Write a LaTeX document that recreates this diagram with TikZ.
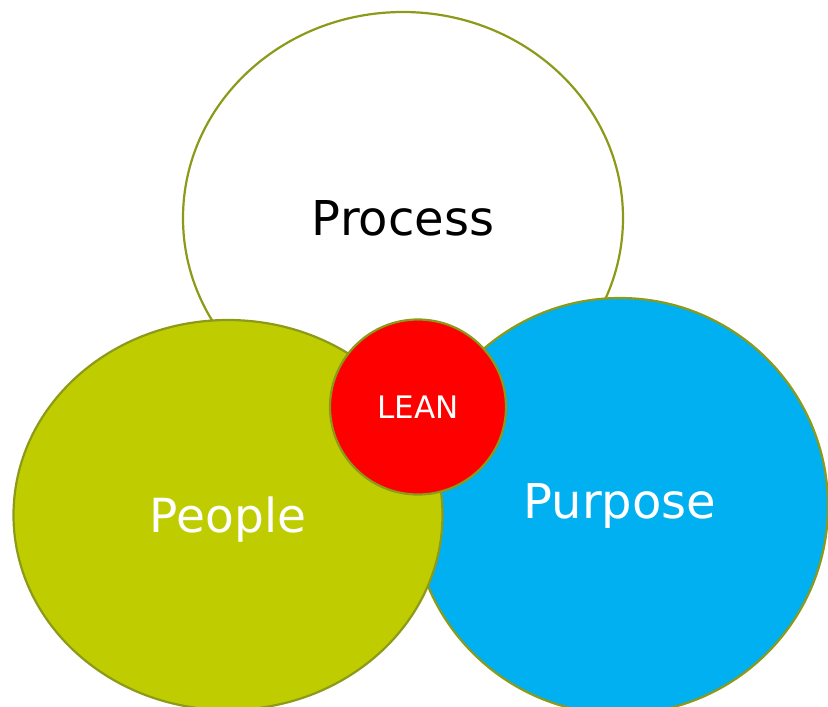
\documentclass[tikz,border=0pt]{standalone}
\usepackage{fontspec}
\setmainfont{DejaVu Sans}
\usepackage[HTML]{xcolor}
\usepackage{tikz}
\usetikzlibrary{positioning, shapes.geometric}

\definecolor{rimolive}{HTML}{8C9A1A}
\definecolor{peoplegreen}{HTML}{BFCD00}
\definecolor{purposeblue}{HTML}{00B0F0}
\definecolor{leanred}{HTML}{FF0000}

\begin{document}
\begin{tikzpicture}[x=1pt, y=-1pt,
  venn/.style={ellipse, draw=rimolive, line width=2.2pt, inner sep=0pt}]
\clip (0,0) rectangle (828,707);

% Process (white, at the back)
\node[venn, fill=white, minimum width=440pt, minimum height=412pt,
  font=\fontsize{48}{56}\selectfont] (process) at (403,218) {Process};

% Purpose (blue, right)
\node[venn, fill=purposeblue, text=white, minimum width=416pt, minimum height=416pt,
  font=\fontsize{48}{56}\selectfont] (purpose) at (620,506) {Purpose};

% People (green, left)
\node[venn, fill=peoplegreen, text=white, minimum width=429pt, minimum height=390pt,
  font=\fontsize{47}{55}\selectfont, text depth=0pt] (people) at (228,515) {People};

% LEAN in the middle
\node[venn, fill=leanred, text=white, minimum width=176pt, minimum height=175pt,
  font=\fontsize{31}{37}\selectfont] (lean) at (418,407) {LEAN};
\end{tikzpicture}
\end{document}
